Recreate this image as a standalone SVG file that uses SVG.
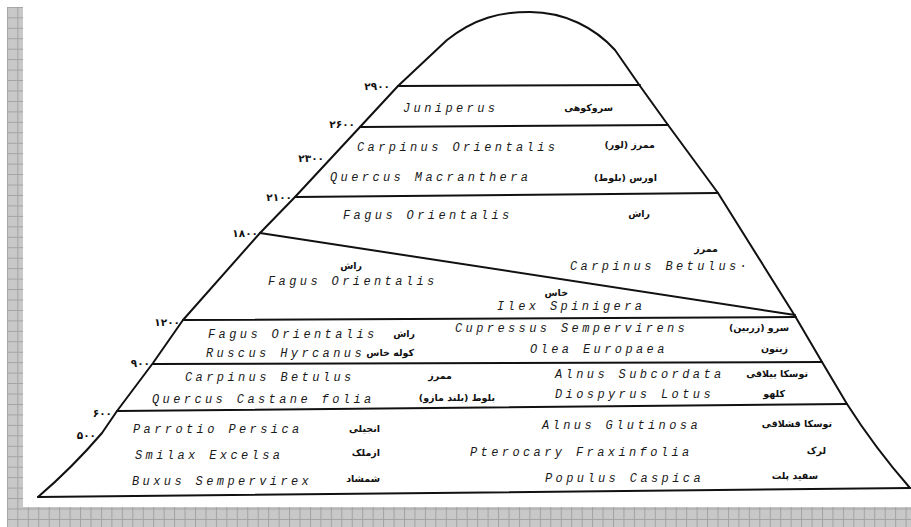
<svg xmlns="http://www.w3.org/2000/svg" width="911" height="527" viewBox="0 0 911 527">
<style>
.ln{fill:none;stroke:#111;stroke-width:2;stroke-linecap:round;stroke-linejoin:round}
.la{font-family:"Liberation Mono","DejaVu Sans Mono",monospace;font-style:italic;font-size:12px;letter-spacing:3.4px;fill:#1a1a1a}
.fa{font-family:"DejaVu Sans",sans-serif;font-weight:bold;font-size:9.5px;fill:#111;direction:rtl;text-anchor:start}
.el{font-family:"DejaVu Sans",sans-serif;font-weight:bold;font-size:10.5px;letter-spacing:1.5px;fill:#111;text-anchor:end}
</style>
<defs>
<pattern id="grid" x="6.9" y="6.9" width="10.45" height="10.45" patternUnits="userSpaceOnUse">
<rect width="10.45" height="10.45" fill="#c8c8c8"/>
<path d="M0,0.5H10.45M0.5,0V10.45" stroke="#a2a2a2" stroke-width="1" fill="none"/>
</pattern>
</defs>
<rect width="911" height="527" fill="#fff"/>
<g id="border">
<rect x="7" y="7" width="16" height="520" fill="url(#grid)"/>
<rect x="7" y="507" width="904" height="20" fill="url(#grid)"/>
</g>
<g id="connectors">
<path class="ln" stroke-width="2.4" d="M38,497 Q72,468 102,433 L117,411 L153,363 L183,320 L260,233 L295,197 L360,127 L398,86 L447,40 C475,18 500,12 530,12 C565,12 595,28 615,50 L640,86 L668,125 L718,193 L795,316 L822,362 L847,404 Q875,448 910,488"/>
<path class="ln" d="M398,86 L640,85"/>
<path class="ln" d="M360,127 L668,125"/>
<path class="ln" d="M295,197 L718,193"/>
<path class="ln" d="M260,233 L795,315"/>
<path class="ln" d="M183,320 L796,317"/>
<path class="ln" d="M153,364 L822,362"/>
<path class="ln" d="M117,411 L847,404"/>
<path class="ln" d="M38,497 L910,488"/>
</g>
<g id="elevations">
<text class="el" x="390" y="90">۲۹۰۰</text>
<text class="el" x="355" y="128">۲۶۰۰</text>
<text class="el" x="324" y="162">۲۳۰۰</text>
<text class="el" x="292" y="201">۲۱۰۰</text>
<text class="el" x="258" y="237">۱۸۰۰</text>
<text class="el" x="180" y="326">۱۲۰۰</text>
<text class="el" x="150" y="367">۹۰۰</text>
<text class="el" x="112" y="417">۶۰۰</text>
<text class="el" x="96" y="439">۵۰۰</text>
</g>
<g id="zone-2900">
<text class="la" x="403" y="112">Juniperus</text>
<text class="fa" x="613" y="111">سروکوهی</text>
</g>
<g id="zone-2600">
<text class="la" x="357" y="151">Carpinus Orientalis</text>
<text class="fa" x="655" y="148">ممرز (لور)</text>
<text class="la" x="330" y="181">Quercus Macranthera</text>
<text class="fa" x="657" y="181">اورس (بلوط)</text>
</g>
<g id="zone-2100">
<text class="la" x="343" y="219">Fagus Orientalis</text>
<text class="fa" x="650" y="217">راش</text>
</g>
<g id="zone-1800">
<text class="fa" x="362" y="269">راش</text>
<text class="la" x="268" y="285">Fagus Orientalis</text>
<text class="fa" x="718" y="252">ممرز</text>
<text class="la" x="570" y="270">Carpinus Betulus·</text>
<text class="fa" x="568" y="296">خاس</text>
<text class="la" x="497" y="310">Ilex Spinigera</text>
</g>
<g id="zone-1200">
<text class="la" x="208" y="338">Fagus Orientalis</text>
<text class="fa" x="415" y="337">راش</text>
<text class="la" x="455" y="332">Cupressus Sempervirens</text>
<text class="fa" x="789" y="331">سرو (زربین)</text>
<text class="la" x="206" y="357">Ruscus Hyrcanus</text>
<text class="fa" x="414" y="356">کوله خاس</text>
<text class="la" x="530" y="353">Olea Europaea</text>
<text class="fa" x="788" y="352">زیتون</text>
</g>
<g id="zone-900">
<text class="la" x="185" y="381">Carpinus Betulus</text>
<text class="fa" x="452" y="379">ممرز</text>
<text class="la" x="555" y="378">Alnus Subcordata</text>
<text class="fa" x="808" y="377">توسکا ییلاقی</text>
<text class="la" x="152" y="403">Quercus Castane folia</text>
<text class="fa" x="495" y="401">بلوط (بلند مازو)</text>
<text class="la" x="555" y="398">Diospyrus Lotus</text>
<text class="fa" x="785" y="397">کلهو</text>
</g>
<g id="zone-600">
<text class="la" x="133" y="433">Parrotio Persica</text>
<text class="fa" x="380" y="432">انجیلی</text>
<text class="la" x="542" y="429">Alnus Glutinosa</text>
<text class="fa" x="832" y="427">توسکا قشلاقی</text>
<text class="la" x="135" y="459">Smilax Excelsa</text>
<text class="fa" x="380" y="456">ازملک</text>
<text class="la" x="470" y="456">Pterocary Fraxinfolia</text>
<text class="fa" x="826" y="454">لرک</text>
<text class="la" x="132" y="485">Buxus Sempervirex</text>
<text class="fa" x="380" y="482">شمشاد</text>
<text class="la" x="545" y="482">Populus Caspica</text>
<text class="fa" x="818" y="479">سفید پلت</text>
</g>
</svg>
